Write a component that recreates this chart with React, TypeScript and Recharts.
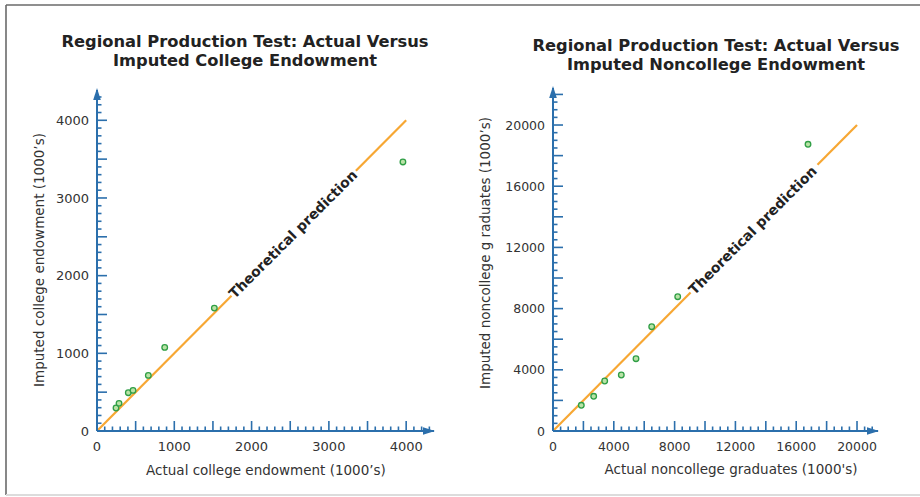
import React from 'react';
import { ScatterChart, Scatter, XAxis, YAxis, ReferenceLine, ReferenceDot } from 'recharts';

// ---- Data ----
const collegeActual = [246, 285, 405, 466, 664, 876, 1518, 3958];
const collegeImputed = [296, 356, 493, 523, 716, 1076, 1582, 3464];
const noncollegeActual = [1862, 2677, 3401, 4493, 5460, 6493, 8204, 16776];
const noncollegeImputed = [1680, 2268, 3268, 3660, 4725, 6817, 8778, 18739];

const collegeLabelTicks = [0, 1000, 2000, 3000, 4000];
const noncollegeLabelTicks = [0, 4000, 8000, 12000, 16000, 20000];

// prediction line y = x, broken where the label sits
const collegePredA = [0, 1740];
const collegePredB = [3350, 4000];
const noncollegePredA = [0, 9050];
const noncollegePredB = [17400, 20000];
const collegeLabelAt = 2535;
const noncollegeLabelAt = 13130;

const titleLeft = ['Regional Production Test: Actual Versus', 'Imputed College Endowment'];
const titleRight = ['Regional Production Test: Actual Versus', 'Imputed Noncollege Endowment'];
const xLabelLeft = 'Actual college endowment (1000\u2019s)';
const yLabelLeft = 'Imputed college endowment (1000\u2019s)';
const xLabelRight = "Actual noncollege graduates (1000's)";
const yLabelRight = 'Imputed noncollege g raduates (1000\u2019s)';
const predictionText = 'Theoretical prediction';

// ---- Styles ----
const AXIS = '#2b6fac';
const ORANGE = '#f7a733';
const DOT_STROKE = '#2f9e45';
const DOT_FILL = '#b9e3a6';
const TEXT = '#333';
const FONT = '"DejaVu Sans", Verdana, sans-serif';

const range = (max: number, step: number) => {
  const out: number[] = [];
  for (let v = 0; v <= max; v += step) out.push(v);
  return out;
};

const makeTick = (axis: 'x' | 'y', labelEvery: number, longEvery: number, fontSize: number) => (props: any) => {
  const { x, y, payload } = props;
  const v = payload.value;
  const long = v % longEvery === 0;
  const len = long ? 10 : 4.5;
  const show = v % labelEvery === 0;
  if (axis === 'x') {
    return (
      <g>
        {v !== 0 && <line x1={x} x2={x} y1={y} y2={y - len} stroke={AXIS} strokeWidth={1.6} />}
        {show && (
          <text x={x} y={y + 20} textAnchor="middle" fontSize={fontSize} fill={TEXT} fontFamily={FONT}>
            {v}
          </text>
        )}
      </g>
    );
  }
  return (
    <g>
      {v !== 0 && <line x1={x} x2={x + len} y1={y} y2={y} stroke={AXIS} strokeWidth={1.6} />}
      {show && (
        <text x={x - 8} y={y + fontSize * 0.36} textAnchor="end" fontSize={fontSize} fill={TEXT} fontFamily={FONT}>
          {v}
        </text>
      )}
    </g>
  );
};

const Dot = (props: any) => (
  <circle cx={props.cx} cy={props.cy} r={2.8} fill={DOT_FILL} stroke={DOT_STROKE} strokeWidth={1.3} />
);

const ArrowRight = (props: any) => {
  const { cx, cy } = props;
  return <polygon points={`${cx + 1},${cy} ${cx - 11},${cy - 3.8} ${cx - 11},${cy + 3.8}`} fill={AXIS} />;
};
const ArrowUp = (props: any) => {
  const { cx, cy } = props;
  return <polygon points={`${cx},${cy - 2} ${cx - 3.8},${cy + 10} ${cx + 3.8},${cy + 10}`} fill={AXIS} />;
};
const PredLabel = (props: any) => {
  const { cx, cy } = props;
  return (
    <text
      x={cx}
      y={cy}
      transform={`rotate(-45 ${cx} ${cy})`}
      textAnchor="middle"
      dy={5}
      fontSize={14}
      fontWeight="bold"
      fill="#222"
      fontFamily={FONT}
    >
      {predictionText}
    </text>
  );
};

type PanelProps = {
  xs: number[];
  ys: number[];
  xMax: number;
  yMax: number;
  minorStep: number;
  longEvery: number;
  labelEvery: number;
  labelTicks: number[];
  predA: number[];
  predB: number[];
  labelAt: number;
  margin: { top: number; right: number; bottom: number; left: number };
  fontSize: number;
};

const Panel = (p: PanelProps) => {
  const data = p.xs.map((x, i) => ({ x, y: p.ys[i] }));
  const xTicks = range(p.xMax, p.minorStep);
  const yTicks = range(p.yMax, p.minorStep);
  return (
    <ScatterChart width={460} height={497} margin={p.margin}>
      <XAxis
        type="number"
        dataKey="x"
        domain={[0, p.xMax]}
        ticks={xTicks}
        interval={0}
        height={1}
        tickSize={0}
        tickMargin={0}
        tickLine={false}
        axisLine={{ stroke: AXIS, strokeWidth: 2 }}
        tick={makeTick('x', p.labelEvery, p.longEvery, p.fontSize)}
        allowDataOverflow
      />
      <YAxis
        type="number"
        dataKey="y"
        domain={[0, p.yMax]}
        ticks={yTicks}
        interval={0}
        width={1}
        tickSize={0}
        tickMargin={0}
        tickLine={false}
        axisLine={{ stroke: AXIS, strokeWidth: 2 }}
        tick={makeTick('y', p.labelEvery, p.longEvery, p.fontSize)}
        allowDataOverflow
      />
      <ReferenceLine
        segment={[{ x: p.predA[0], y: p.predA[0] }, { x: p.predA[1], y: p.predA[1] }]}
        stroke={ORANGE}
        strokeWidth={2.2}
        ifOverflow="visible"
      />
      <ReferenceLine
        segment={[{ x: p.predB[0], y: p.predB[0] }, { x: p.predB[1], y: p.predB[1] }]}
        stroke={ORANGE}
        strokeWidth={2.2}
        ifOverflow="visible"
      />
      <ReferenceDot x={p.labelAt} y={p.labelAt} r={0} shape={PredLabel} ifOverflow="visible" />
      <ReferenceDot x={p.xMax} y={0} r={0} shape={ArrowRight} ifOverflow="visible" />
      <ReferenceDot x={0} y={p.yMax} r={0} shape={ArrowUp} ifOverflow="visible" />
      <Scatter data={data} shape={Dot} isAnimationActive={false} />
    </ScatterChart>
  );
};

export default function App() {
  return (
    <div style={{ position: 'absolute', left: 0, top: 0, width: 920, height: 497, background: '#fff', fontFamily: FONT }}>
      <div style={{ position: 'absolute', left: 0, top: 0 }}>
        <Panel
          xs={collegeActual}
          ys={collegeImputed}
          xMax={4360}
          yMax={4390}
          minorStep={100}
          longEvery={500}
          labelEvery={1000}
          labelTicks={collegeLabelTicks}
          predA={collegePredA}
          predB={collegePredB}
          labelAt={collegeLabelAt}
          margin={{ top: 90, right: 26, bottom: 65, left: 96 }}
          fontSize={13}
        />
      </div>
      <div style={{ position: 'absolute', left: 460, top: 0 }}>
        <Panel
          xs={noncollegeActual}
          ys={noncollegeImputed}
          xMax={21380}
          yMax={22420}
          minorStep={500}
          longEvery={2000}
          labelEvery={4000}
          labelTicks={noncollegeLabelTicks}
          predA={noncollegePredA}
          predB={noncollegePredB}
          labelAt={noncollegeLabelAt}
          margin={{ top: 88, right: 42, bottom: 65, left: 92 }}
          fontSize={12.5}
        />
      </div>
      <svg width={920} height={497} style={{ position: 'absolute', left: 0, top: 0, pointerEvents: 'none' }}>
        <line x1={6} y1={5} x2={920} y2={5} stroke="#6a6a6a" strokeWidth={1.6} />
        <line x1={6} y1={5} x2={6} y2={495} stroke="#6a6a6a" strokeWidth={1.6} />
        <line x1={6} y1={495} x2={920} y2={495} stroke="#dcdcdc" strokeWidth={2} />
        <g fontFamily={FONT} fontWeight="bold" fontSize={16.3} fill="#222" textAnchor="middle">
          <text x={245} y={47}>{titleLeft[0]}</text>
          <text x={245} y={66}>{titleLeft[1]}</text>
          <text x={716} y={51}>{titleRight[0]}</text>
          <text x={716} y={70}>{titleRight[1]}</text>
        </g>
        <g fontFamily={FONT} fontSize={13.5} fill={TEXT} textAnchor="middle">
          <text x={266} y={475}>{xLabelLeft}</text>
          <text x={731} y={473.5}>{xLabelRight}</text>
          <text x={43.5} y={260} transform="rotate(-90 43.5 260)">{yLabelLeft}</text>
          <text x={490} y={253} transform="rotate(-90 490 253)">{yLabelRight}</text>
        </g>
      </svg>
    </div>
  );
}
